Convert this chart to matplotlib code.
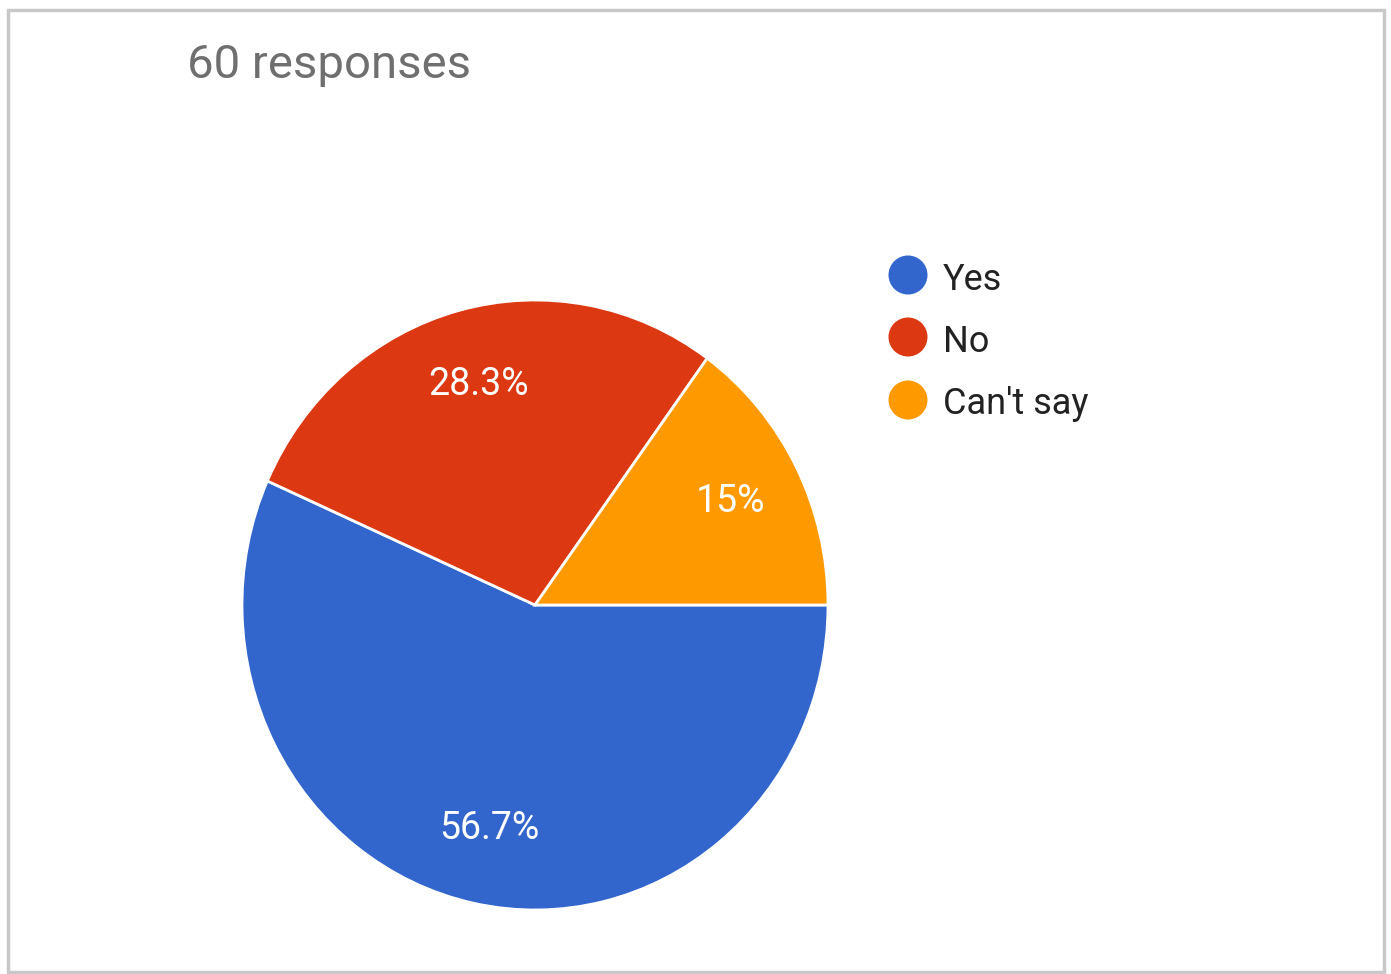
import matplotlib
matplotlib.use("Agg")
import matplotlib.pyplot as plt
from matplotlib.patches import Rectangle, Ellipse

categories = ["Yes", "No", "Can't say"]
counts = [34, 17, 9]
colors = ["#3366CC", "#DC3912", "#FF9900"]
title = "60 responses"

plt.rcParams['font.family'] = ['Roboto', 'DejaVu Sans']

W, H = 1391, 974
fig = plt.figure(figsize=(W / 100, H / 100), dpi=100)
fig.patch.set_facecolor("white")

# frame
fig.patches.append(Rectangle((8 / W, 2 / H), (1384 - 8) / W, (968 - 6) / H,
                             transform=fig.transFigure, fill=False,
                             edgecolor="#c8c8c8", linewidth=2.5))

def fmt(p):
    s = f"{p:.1f}"
    if s.endswith(".0"):
        s = s[:-2]
    return s + "%"

cx, cy, rx, ry = 535, 605, 293, 305
ax = fig.add_axes([(cx - rx) / W, (H - cy - ry) / H, 2 * rx / W, 2 * ry / H])
wedges, texts, autotexts = ax.pie(counts, colors=colors, startangle=0, counterclock=False,
                                  autopct=fmt, pctdistance=0.75,
                                  wedgeprops=dict(edgecolor="white", linewidth=2))
for t in autotexts:
    t.set_color("white")
    t.set_fontsize(27)
ax.set_aspect("auto")
ax.set_xlim(-1, 1)
ax.set_ylim(-1, 1)
ax.axis("off")

fig.text(187 / W, 1 - 78 / H, title, fontsize=34, color="#6f6f6f", va="baseline", ha="left")

# legend
circ_y = [275, 337, 400]
text_base = [290, 352, 414]
for lab, col, y, b in zip(categories, colors, circ_y, text_base):
    fig.patches.append(Ellipse((908 / W, 1 - y / H), 39 / W, 39 / H,
                               transform=fig.transFigure, facecolor=col, edgecolor="none"))
    fig.text(943 / W, 1 - b / H, lab, fontsize=26, color="#222222", va="baseline", ha="left")

fig.savefig("out.png", dpi=100)
